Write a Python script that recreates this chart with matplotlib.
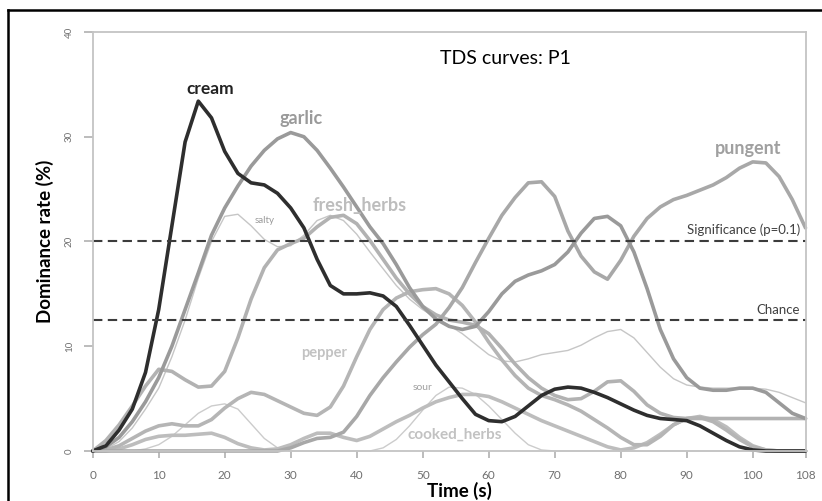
import numpy as np
import matplotlib
matplotlib.use("Agg")
import matplotlib.pyplot as plt
from matplotlib.lines import Line2D

plt.rcParams['font.family'] = ['Lato', 'DejaVu Sans']

# ---------------- data (every 2 s) ----------------
time_s = list(range(0, 109, 2))

cream = [0, 0.5, 2, 4, 7.5, 13.5, 21.5, 29.5, 33.4, 31.8, 28.6, 26.5, 25.6, 25.4, 24.6, 23.2,
         21.3, 18.3, 15.8, 15, 15, 15.1, 14.8, 13.8, 12, 10.1, 8.2, 6.6, 5, 3.5, 2.9, 2.8,
         3.3, 4.3, 5.3, 5.9, 6.1, 6, 5.6, 5.1, 4.5, 3.9, 3.4, 3.1, 3, 2.9, 2.4, 1.7, 1, 0.4,
         0.1, 0, 0, 0, 0]
garlic = [0, 0.4, 1.3, 2.8, 4.7, 7, 10, 13.5, 17, 20.6, 23.2, 25.3, 27.2, 28.7, 29.8, 30.4,
          30, 28.7, 27, 25.2, 23.3, 21.4, 19.8, 17.8, 15.6, 13.8, 12.6, 11.9, 11.6, 11.9, 13.3,
          15, 16.2, 16.8, 17.2, 17.8, 19, 20.8, 22.2, 22.4, 21.5, 19, 15.5, 11.6, 8.8, 7, 6,
          5.8, 5.8, 6, 6, 5.6, 4.6, 3.6, 3.1]
fresh_herbs = [0, 1, 2.5, 4.3, 6.2, 7.8, 7.6, 6.8, 6.1, 6.2, 7.6, 10.8, 14.5, 17.5, 19.2, 19.8,
               20.3, 21.4, 22.3, 22.5, 21.7, 20.1, 18.3, 16.5, 15, 13.8, 13, 12.5, 12.3, 12,
               11.2, 9.8, 8.3, 7, 6, 5.3, 4.9, 5, 5.7, 6.6, 6.7, 5.7, 4.4, 3.6, 3.2, 3.1, 3.1,
               3.1, 3.1, 3.1, 3.1, 3.1, 3.1, 3.1, 3.1]
salty = [0, 0.2, 0.9, 2.2, 4, 6, 9, 12.5, 16.5, 20, 22.4, 22.6, 21.5, 20.2, 19.5, 19.6, 20.6,
         22, 22.5, 22, 20.7, 19, 17.4, 15.8, 14.5, 13.5, 12.7, 12, 11.2, 10.2, 9.2, 8.6, 8.5,
         8.8, 9.2, 9.4, 9.6, 10.1, 10.8, 11.4, 11.6, 10.8, 9.4, 8, 6.9, 6.3, 6.1, 6, 6, 6, 6,
         5.9, 5.6, 5.1, 4.6]
pepper = [0, 0.1, 0.5, 1.2, 1.9, 2.4, 2.6, 2.4, 2.4, 3, 4.1, 5, 5.6, 5.4, 4.8, 4.2, 3.6, 3.4,
          4.2, 6.2, 9, 11.6, 13.5, 14.6, 15.2, 15.4, 15.5, 15, 13.9, 12.3, 10.4, 8.7, 7.2, 6,
          5.3, 4.9, 4.4, 3.8, 3, 2.2, 1.3, 0.6, 0.6, 1.4, 2.5, 3.1, 3.2, 2.8, 2, 1.1, 0.4, 0.1,
          0, 0, 0]
sour = [0, 0, 0, 0, 0.2, 0.6, 1.4, 2.5, 3.6, 4.3, 4.5, 4, 2.6, 1.2, 0.3, 0, 0, 0, 0, 0, 0, 0,
        0.3, 1.1, 2.4, 3.9, 5.3, 6.1, 6, 5.4, 4.3, 3, 1.7, 0.6, 0.1, 0, 0, 0, 0, 0, 0, 0, 0, 0,
        0, 0, 0, 0, 0, 0, 0, 0, 0, 0, 0]
cooked_herbs = [0, 0, 0.2, 0.6, 1.1, 1.4, 1.5, 1.5, 1.6, 1.7, 1.3, 0.7, 0.3, 0.1, 0.2, 0.6, 1.2,
                1.7, 1.7, 1.3, 1, 1.4, 2.1, 2.8, 3.4, 4.1, 4.7, 5.1, 5.4, 5.4, 5.2, 4.7, 4.1,
                3.5, 2.9, 2.4, 1.9, 1.4, 0.9, 0.4, 0.1, 0.3, 0.8, 1.6, 2.5, 3.1, 3.3, 3, 2.3,
                1.3, 0.5, 0.1, 0, 0, 0]
pungent = [0, 0, 0, 0, 0, 0, 0, 0, 0, 0, 0, 0, 0, 0, 0, 0.3, 0.8, 1.2, 1.3, 1.8, 3.3, 5.3, 7,
           8.5, 9.9, 11.1, 12.1, 13.7, 15.6, 18, 20.3, 22.5, 24.2, 25.6, 25.7, 24.3, 21, 18.6,
           17.1, 16.4, 18.2, 20.5, 22.2, 23.3, 24, 24.4, 24.9, 25.4, 26.1, 27, 27.6, 27.5,
           26.2, 24, 21.3]

chance_level = 12.5
significance_level = 20

x_ticks = [0, 10, 20, 30, 40, 50, 60, 70, 80, 90, 100, 108]
y_ticks = [0, 10, 20, 30, 40]

# ---------------- figure ----------------
fig = plt.figure(figsize=(8.22, 5.01), dpi=100)
ax = fig.add_axes([92.7 / 822, 1 - 451 / 501, (805.5 - 92.7) / 822, (451 - 32) / 501])

# black frame (left + top edges visible in the reference)
fig.add_artist(Line2D([8 / 822, 8 / 822], [0, 1 - 10 / 501], transform=fig.transFigure,
                      color='black', lw=1.8))
fig.add_artist(Line2D([8 / 822, 1], [1 - 10 / 501, 1 - 10 / 501], transform=fig.transFigure,
                      color='black', lw=1.8))

thick = 2.6
thin = 1.0
series = [
    (sour, '#cccccc', thin),
    (salty, '#c6c6c6', thin),
    (cooked_herbs, '#bdbdbd', thick),
    (pepper, '#b5b5b5', thick),
    (fresh_herbs, '#b2b2b2', thick),
    (pungent, '#a8a8a8', thick),
    (garlic, '#9a9a9a', thick),
    (cream, '#2e2e2e', thick),
]
for vals, col, lw in series:
    ax.plot(time_s, vals, color=col, lw=lw, solid_joinstyle='round',
            solid_capstyle='round', clip_on=False)

ax.axhline(significance_level, color='#3c3c3c', lw=1.5, dashes=(4.5, 2.6))
ax.axhline(chance_level, color='#3c3c3c', lw=1.5, dashes=(4.5, 2.6))

ax.set_xlim(0, 108)
ax.set_ylim(0, 40)
ax.set_xticks(x_ticks)
ax.set_yticks(y_ticks)
ax.set_xticklabels([str(v) for v in x_ticks])
ax.set_yticklabels([str(v) for v in y_ticks], rotation=90, va='center')
ax.tick_params(axis='both', colors='#b0b0b0', labelcolor='#707070', direction='out')
ax.tick_params(axis='y', length=6.5, width=1.2, labelsize=7, pad=7)
ax.tick_params(axis='x', length=5, width=1.2, labelsize=8.5, pad=9)
for s in ax.spines.values():
    s.set_color('#c4c4c4')
    s.set_linewidth(1.3)

ax.set_ylabel('Dominance rate (%)', fontsize=13.5, fontweight='bold', color='black', labelpad=8)
ax.set_xlabel('Time (s)', fontsize=13.5, fontweight='bold', color='black', labelpad=0)
ax.xaxis.set_label_coords(0.515, -0.073)

# labels
ax.text(62.5, 37.5, 'TDS curves: P1', fontsize=14, color='black', ha='center', va='center')
ax.text(17.8, 34.6, 'cream', fontsize=12.5, fontweight='bold', color='#222222', ha='center', va='center')
ax.text(31.6, 31.7, 'garlic', fontsize=13, fontweight='bold', color='#9a9a9a', ha='center', va='center')
ax.text(40.5, 23.4, 'fresh_herbs', fontsize=13, fontweight='bold', color='#bdbdbd', ha='center', va='center')
ax.text(26.0, 22.0, 'salty', fontsize=7, color='#9a9a9a', ha='center', va='center')
ax.text(35.0, 9.4, 'pepper', fontsize=10.5, fontweight='bold', color='#c2c2c2', ha='center', va='center')
ax.text(50.0, 6.1, 'sour', fontsize=7.5, color='#a0a0a0', ha='center', va='center')
ax.text(54.8, 1.6, 'cooked_herbs', fontsize=11, fontweight='bold', color='#c2c2c2', ha='center', va='center')
ax.text(99.3, 28.9, 'pungent', fontsize=13, fontweight='bold', color='#a0a0a0', ha='center', va='center')
ax.text(107.2, 21.1, 'Significance (p=0.1)', fontsize=9.5, color='#404040', ha='right', va='center')
ax.text(107.2, 13.5, 'Chance', fontsize=9.5, color='#404040', ha='right', va='center')

fig.savefig('out.png', dpi=100)
